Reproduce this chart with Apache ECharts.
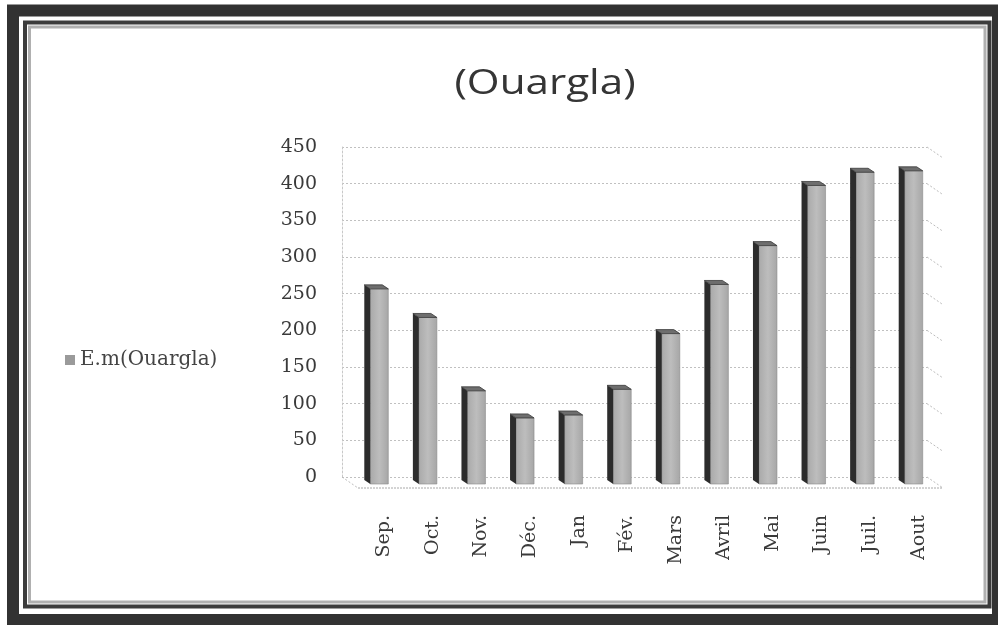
<!DOCTYPE html>
<html>
<head>
<meta charset="utf-8">
<style>
  html, body { margin: 0; padding: 0; background: #fff; }
  #chart { width: 998px; height: 625px; }
</style>
<script src="https://cdn.jsdelivr.net/npm/echarts@6/dist/echarts.min.js"></script>
</head>
<body>
<div id="chart"></div>
<script>
// Monthly evaporation at Ouargla (E.m), September to August
const months = ['Sep.', 'Oct.', 'Nov.', 'Déc.', 'Jan', 'Fév.', 'Mars', 'Avril', 'Mai', 'Juin', 'Juil.', 'Aout'];
const evaporation = [262, 223, 123, 86, 90, 125, 201, 268, 321, 403, 421, 423];
const yTicks = [0, 50, 100, 150, 200, 250, 300, 350, 400, 450];
const seriesName = 'E.m(Ouargla)';
const chartTitle = '(Ouargla)';

const chart = echarts.init(document.getElementById('chart'), null, { renderer: 'canvas' });

const TOP = 147, BOTTOM = 148;
const DEPTH_X = 16, DEPTH_Y = 11;   // perspective offset of the floor / wall edges

// 3D-looking column: dark left side, light front face, small top cap
function renderBar(params, api) {
  const idx = api.value(0);
  const top = api.coord([idx, api.value(1)]);
  const base = api.coord([idx, 0]);
  const cx = top[0];
  const yTop = top[1];
  const yFront = yTop + 4;
  const yBot = base[1] + 7;
  const xl = cx - 12, xm = cx - 6, xr = cx + 12;
  return {
    type: 'group',
    children: [
      {
        type: 'polygon',
        shape: { points: [[xm, yFront], [xr, yFront], [xr, yBot], [xm, yBot]] },
        style: {
          fill: new echarts.graphic.LinearGradient(0, 0, 1, 0, [
            { offset: 0, color: '#a9a9a9' },
            { offset: 0.5, color: '#bdbdbd' },
            { offset: 1, color: '#a6a6a6' }
          ]),
          stroke: '#8a8a8a', lineWidth: 0.6
        }
      },
      {
        type: 'polygon',
        shape: { points: [[xl, yTop], [xm, yFront], [xm, yBot], [xl, yBot - 4]] },
        style: { fill: '#2c2c2c' }
      },
      {
        type: 'polygon',
        shape: { points: [[xl, yTop], [xr - 6, yTop], [xr, yFront], [xm, yFront]] },
        style: { fill: '#6e6e6e', stroke: '#3a3a3a', lineWidth: 0.8 }
      }
    ]
  };
}

// Perspective edges of the back wall and floor
function renderWallEdges(params, api) {
  const v = api.value(0);
  const right = api.coord([1, v]);
  const children = [{
    type: 'line',
    shape: { x1: right[0], y1: right[1], x2: right[0] + DEPTH_X, y2: right[1] + DEPTH_Y },
    style: { stroke: '#bdbdbd', lineWidth: 1, lineDash: [2, 2] }
  }];
  if (v === 0) {
    const left = api.coord([0, 0]);
    children.push({
      type: 'line',
      shape: { x1: left[0], y1: left[1], x2: left[0] + DEPTH_X, y2: left[1] + DEPTH_Y },
      style: { stroke: '#bdbdbd', lineWidth: 1, lineDash: [2, 2] }
    });
    children.push({
      type: 'line',
      shape: { x1: left[0] + DEPTH_X, y1: left[1] + DEPTH_Y, x2: right[0] + DEPTH_X, y2: right[1] + DEPTH_Y },
      style: { stroke: '#a8a8a8', lineWidth: 1, lineDash: [2, 1] }
    });
  }
  return { type: 'group', children: children };
}

const labelFont = 'DejaVu Serif';

chart.setOption({
  backgroundColor: '#ffffff',
  animation: false,
  legend: {
    left: 60,
    top: 345,
    orient: 'vertical',
    icon: 'rect',
    itemWidth: 10,
    itemHeight: 10,
    itemGap: 6,
    data: [seriesName],
    textStyle: { fontFamily: labelFont, fontSize: 20, color: '#444' }
  },
  graphic: [
    // chart title, stretched horizontally about its centre
    { type: 'text', silent: true, z: 100,
      x: 545, y: 67, scaleX: 1.24,
      style: { text: chartTitle, fontFamily: 'Open Sans', fontSize: 34, fill: '#353535',
               align: 'center', verticalAlign: 'top' } },
    // double frame
    { type: 'rect', silent: true, z: 100,
      shape: { x: 13, y: 10.5, width: 985, height: 609.5 },
      style: { fill: 'none', stroke: '#323232', lineWidth: 12 } },
    { type: 'rect', silent: true, z: 100,
      shape: { x: 25, y: 22.5, width: 964.5, height: 584 },
      style: { fill: 'none', stroke: '#3c3c3c', lineWidth: 4 } },
    { type: 'rect', silent: true, z: 100,
      shape: { x: 29.5, y: 27, width: 955.5, height: 575 },
      style: { fill: 'none', stroke: '#b0b0b0', lineWidth: 3 } }
  ],
  grid: [
    { left: 352, right: 63, top: TOP, bottom: BOTTOM },   // columns
    { left: 342, right: 71, top: TOP, bottom: BOTTOM },   // back wall
    { left: 360, right: 55, top: TOP, bottom: BOTTOM }    // month labels
  ],
  xAxis: [
    { type: 'category', gridIndex: 0, data: months, show: false },
    { type: 'value', gridIndex: 1, min: 0, max: 1, show: false },
    {
      type: 'category', gridIndex: 2, data: months,
      axisLine: { show: false }, axisTick: { show: false },
      axisLabel: { rotate: 90, margin: 38, fontFamily: labelFont, fontSize: 19, color: '#3a3a3a', interval: 0 }
    }
  ],
  yAxis: [
    { type: 'value', gridIndex: 0, min: 0, max: 450, interval: 50, show: false },
    {
      type: 'value', gridIndex: 1, min: 0, max: 450, interval: 50,
      axisLine: { show: true, lineStyle: { color: '#c8c8c8', type: [2, 2] } },
      axisTick: { show: false },
      axisLabel: {
        margin: 25, fontFamily: labelFont, fontSize: 19, color: '#3a3a3a',
        formatter: function (v) { return yTicks.indexOf(v) >= 0 ? String(v) : ''; }
      },
      splitLine: { show: true, lineStyle: { color: '#c0c0c0', type: [2, 2], width: 1 } }
    },
    { type: 'value', gridIndex: 2, min: 0, max: 450, interval: 50, show: false }
  ],
  series: [
    {
      type: 'custom',
      name: 'wall',
      xAxisIndex: 1, yAxisIndex: 1,
      silent: true,
      renderItem: renderWallEdges,
      data: yTicks.map(function (v) { return [v]; }),
      encode: { y: 0 },
      z: 1
    },
    {
      type: 'custom',
      name: seriesName,
      xAxisIndex: 0, yAxisIndex: 0,
      itemStyle: { color: '#9a9a9a' },
      renderItem: renderBar,
      data: evaporation.map(function (v, i) { return [i, v]; }),
      encode: { x: 0, y: 1 },
      z: 3
    }
  ]
});
</script>
</body>
</html>
